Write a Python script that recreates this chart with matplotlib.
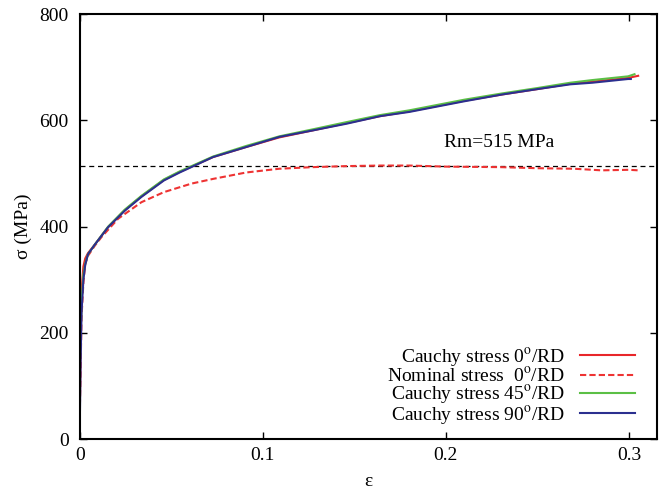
import numpy as np
import matplotlib
matplotlib.use("Agg")
import matplotlib.pyplot as plt

plt.rcParams['font.family'] = ['Liberation Serif', 'DejaVu Serif']
plt.rcParams['mathtext.fontset'] = 'stix'

# strain / stress
eps_c0 = [0, 0.0005, 0.001, 0.002, 0.003, 0.0045, 0.0082, 0.0155, 0.0246, 0.0337,
          0.046, 0.0546, 0.0728, 0.091, 0.109, 0.127, 0.146, 0.164, 0.18, 0.195,
          0.21, 0.231, 0.25, 0.268, 0.28, 0.2995, 0.305]
sig_c0 = [40, 200, 280, 325, 340, 350, 366, 399, 431, 457, 488, 503, 531, 550, 568,
          581, 595, 608, 617, 627, 637, 649, 659, 669, 673, 680, 684]

eps_nom = [0, 0.001, 0.002, 0.003, 0.0045, 0.0082, 0.0118, 0.021, 0.0337, 0.046,
           0.061, 0.073, 0.091, 0.109, 0.127, 0.146, 0.164, 0.18, 0.2, 0.23, 0.25,
           0.27, 0.285, 0.3, 0.305]
sig_nom = [45, 230, 295, 330, 345, 364, 380, 415, 446, 465, 481, 490, 502, 509, 512,
           514, 515, 515, 513, 512, 510, 509, 506, 507, 506]

eps_c45 = [0, 0.0005, 0.001, 0.002, 0.003, 0.0045, 0.0082, 0.0155, 0.0246, 0.0337,
           0.046, 0.0546, 0.0728, 0.091, 0.109, 0.127, 0.146, 0.164, 0.18, 0.195,
           0.21, 0.231, 0.25, 0.268, 0.28, 0.2995, 0.303]
sig_c45 = [130, 190, 260, 310, 330, 348, 366, 400, 432, 458, 489, 504, 532, 552, 570,
           583, 597, 610, 619, 629, 639, 651, 661, 671, 676, 683, 687]

eps_c90 = [0, 0.0005, 0.001, 0.002, 0.003, 0.0045, 0.0082, 0.0155, 0.0246, 0.0337,
           0.046, 0.0546, 0.0728, 0.091, 0.109, 0.127, 0.146, 0.164, 0.18, 0.195,
           0.21, 0.231, 0.25, 0.268, 0.28, 0.2995, 0.301]
sig_c90 = [20, 150, 240, 300, 328, 348, 366, 399, 430, 456, 487, 502, 531, 550, 569,
           581, 594, 608, 616, 626, 636, 649, 659, 668, 671, 678, 678]

rm = 515

fig, ax = plt.subplots(figsize=(6.59, 4.9), dpi=100)
fig.subplots_adjust(left=0.121, right=0.997, top=0.971, bottom=0.104)

ax.axhline(rm, color='k', lw=0.9, ls=(0, (4, 3)))
ax.plot(eps_c0, sig_c0, color='#e8262a', lw=1.5, label='Cauchy stress 0$^{\\rm o}$/RD')
ax.plot(eps_nom, sig_nom, color='#ee3333', lw=1.5, ls=(0, (3, 1.5)),
        label='Nominal stress  0$^{\\rm o}$/RD')
ax.plot(eps_c45, sig_c45, color='#5bbf45', lw=1.5, label='Cauchy stress 45$^{\\rm o}$/RD')
ax.plot(eps_c90, sig_c90, color='#2b2f8f', lw=1.5, label='Cauchy stress 90$^{\\rm o}$/RD')

ax.text(0.229, 558, 'Rm=515 MPa', fontsize=14, ha='center', va='center')

ax.set_xlim(0, 0.3153)
ax.set_ylim(0, 800)
ax.set_xticks([0, 0.1, 0.2, 0.3])
ax.set_xticklabels(['0', '0.1', '0.2', '0.3'])
ax.set_yticks([0, 200, 400, 600, 800])
ax.tick_params(direction='in', length=5, width=1, top=True, right=True,
               labelsize=14, pad=6)
ax.tick_params(axis='y', pad=8)
for s in ax.spines.values():
    s.set_linewidth(1.5)

ax.set_xlabel('ε', fontsize=14, labelpad=6)
ax.set_ylabel('σ (MPa)', fontsize=14, labelpad=5)

ax.legend(loc='lower right', bbox_to_anchor=(0.985, -0.003), frameon=False,
          markerfirst=False, fontsize=14, labelspacing=-0.12, handlelength=2.8,
          handletextpad=0.8, borderpad=0.2)

fig.savefig('out.png', dpi=100)
